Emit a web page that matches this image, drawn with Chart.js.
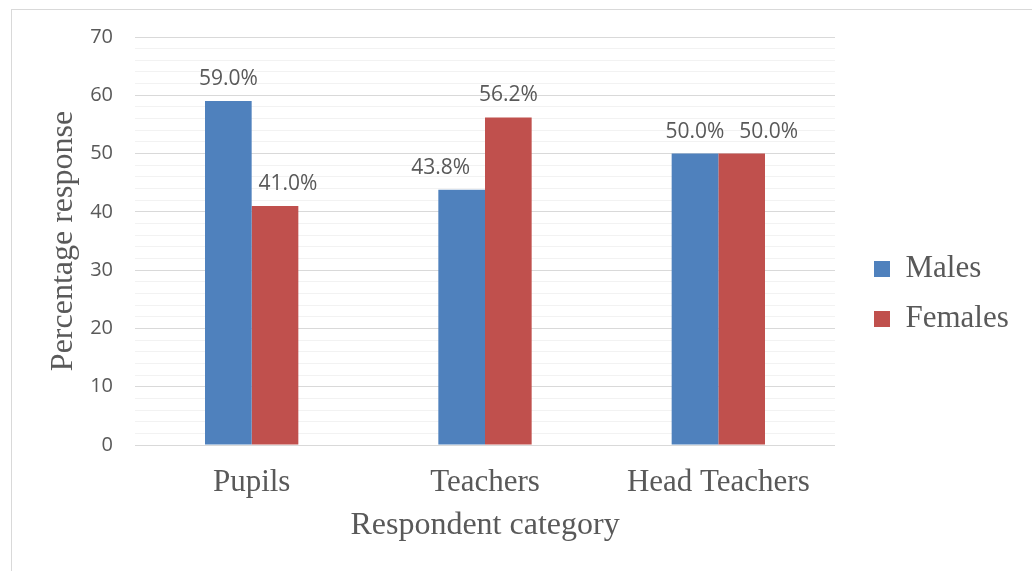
<!DOCTYPE html>
<html>
<head>
<meta charset="utf-8">
<script src="https://cdn.jsdelivr.net/npm/chart.js@4.4.1/dist/chart.umd.min.js"></script>
<style>
    html, body { margin: 0; padding: 0; background: #fff; }
    .wrap { position: relative; width: 1032px; height: 571px; overflow: hidden; }
    .frame { position: absolute; left: 11px; top: 9px; width: 1100px; height: 700px; border: 1px solid #d9d9d9; }
    canvas { position: absolute; left: 0; top: 0; }
</style>
</head>
<body>
<div class="wrap">
    <div class="frame"></div>
    <canvas id="chart" width="1032" height="571"></canvas>
</div>
<script>
/* ── Data ── */
const categories = ['Pupils', 'Teachers', 'Head Teachers'];
const males = [59.0, 43.8, 50.0];
const females = [41.0, 56.2, 50.0];
const seriesNames = ['Males', 'Females'];

// y axis: 0..70, gridline every 2, labelled every 10
const yMin = 0;
const yMax = 70;
const yStep = 2;
const yLabelStep = 10;

const GRAY = '#595959';
const SERIF = '"Liberation Serif", "Times New Roman", serif';
const SANS = '"Open Sans", sans-serif';

/* ── Value labels above the bars ── */
// horizontal nudges (px) per series/category, as placed in the original to avoid overlaps
const labelNudge = [[0, -21, 0], [13, 0, 27]];

const valueLabels = {
    id: 'valueLabels',
    afterDatasetsDraw(chart) {
        const { ctx } = chart;
        ctx.save();
        ctx.font = '21px ' + SANS;
        ctx.fillStyle = GRAY;
        ctx.textAlign = 'center';
        ctx.textBaseline = 'middle';
        chart.data.datasets.forEach((ds, i) => {
            chart.getDatasetMeta(i).data.forEach((bar, j) => {
                ctx.fillText(ds.data[j].toFixed(1) + '%', bar.x + labelNudge[i][j], bar.y - 22);
            });
        });
        ctx.restore();
    },
};

new Chart(document.getElementById('chart'), {
    type: 'bar',
    data: {
        labels: categories,
        datasets: [
            { label: seriesNames[0], data: males, backgroundColor: '#4f81bd' },
            { label: seriesNames[1], data: females, backgroundColor: '#c0504d' },
        ],
    },
    options: {
        responsive: false,
        animation: false,
        categoryPercentage: 0.4,
        barPercentage: 1.0,
        layout: { padding: { left: 40, top: 37, bottom: 20, right: 14 } },
        plugins: {
            legend: {
                position: 'right',
                labels: {
                    boxWidth: 16,
                    boxHeight: 16,
                    padding: 19,
                    color: GRAY,
                    font: { family: SERIF, size: 31 },
                },
            },
            tooltip: { enabled: false },
        },
        scales: {
            x: {
                grid: { display: false },
                border: { display: false },
                ticks: {
                    color: GRAY,
                    padding: 11,
                    font: { family: SERIF, size: 31 },
                },
                title: {
                    display: true,
                    text: 'Respondent category',
                    color: GRAY,
                    padding: { top: 0, bottom: 6 },
                    font: { family: SERIF, size: 32 },
                },
                afterFit: (s) => { s.height = 106; },
            },
            y: {
                min: yMin,
                max: yMax,
                grid: {
                    drawTicks: false,
                    color: (c) => (c.tick && c.tick.value % yLabelStep === 0 ? '#d9d9d9' : '#f2f2f2'),
                },
                border: { display: false },
                ticks: {
                    stepSize: yStep,
                    autoSkip: false,
                    padding: 22,
                    color: GRAY,
                    font: { family: SANS, size: 20 },
                    callback: (v) => (v % yLabelStep === 0 ? v : ''),
                },
                title: {
                    display: true,
                    text: 'Percentage response',
                    color: GRAY,
                    padding: { top: 4, bottom: 0 },
                    font: { family: SERIF, size: 32 },
                },
                afterFit: (s) => { s.width = 95; },
            },
            // empty axis: keeps the gap between plot and legend
            gap: {
                type: 'linear',
                position: 'right',
                grid: { display: false, drawTicks: false },
                border: { display: false },
                ticks: { display: false },
                afterFit: (s) => { s.width = 20; },
            },
        },
    },
    plugins: [valueLabels],
});
</script>
</body>
</html>
